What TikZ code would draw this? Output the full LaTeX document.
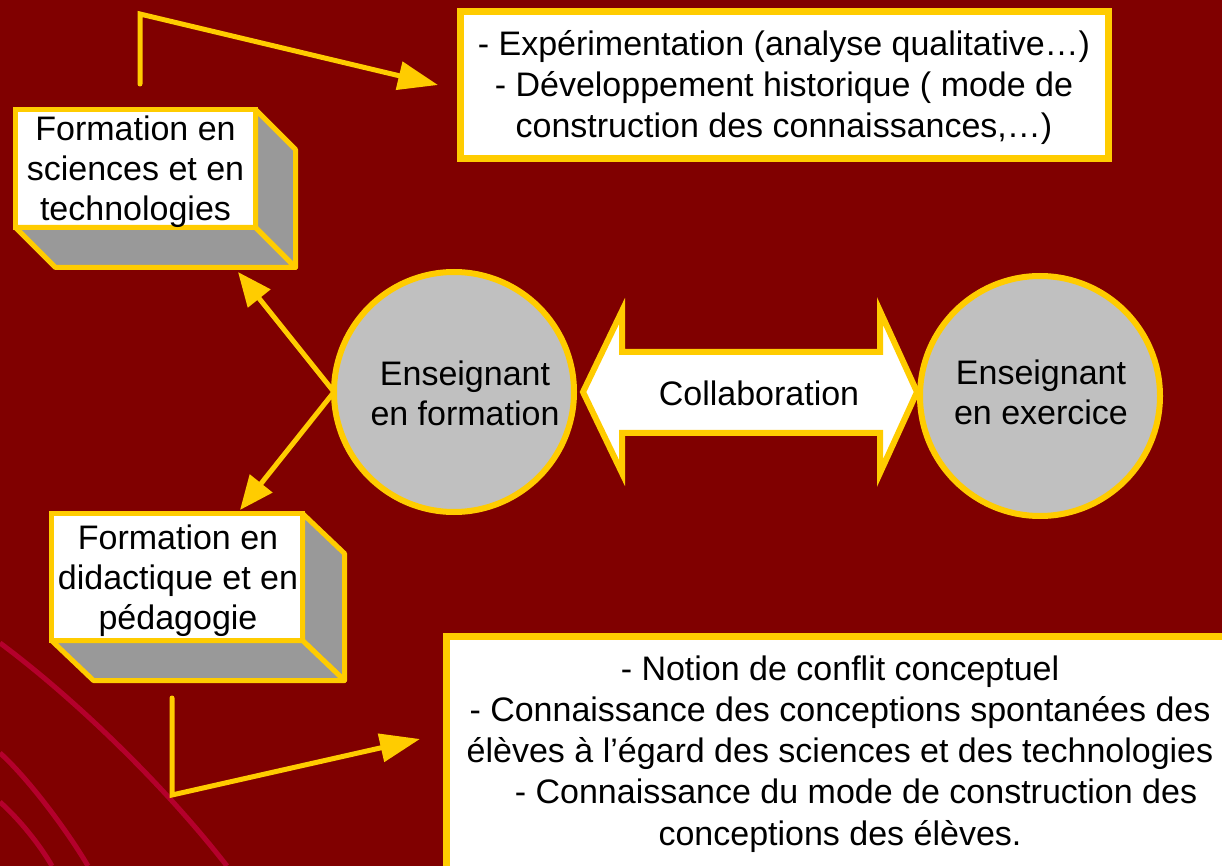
\documentclass[tikz,border=0pt]{standalone}
\usepackage{fontspec}
\setmainfont{Liberation Sans}
\usetikzlibrary{arrows.meta}

\definecolor{bgred}{HTML}{800000}
\definecolor{gold}{HTML}{FFCC00}
\definecolor{discgray}{HTML}{C0C0C0}
\definecolor{sidegray}{HTML}{999999}
\definecolor{curvered}{HTML}{B4002C}

\begin{document}
\begin{tikzpicture}[x=0.5pt,y=-0.5pt,
  every node/.style={font=\fontsize{17}{20}\selectfont,align=center,inner sep=0pt,outer sep=0pt},
  frontface/.style={draw=gold,fill=white,line width=2.5pt},
  sideface/.style={draw=gold,fill=sidegray,line width=2.5pt,line join=round},
  textbox/.style={draw=gold,fill=white,line width=3.5pt},
  disc/.style={circle,draw=gold,fill=discgray,line width=3pt,minimum size=120pt},
  link/.style={gold,line width=2.5pt,line cap=round,-{Triangle[length=20pt,width=14pt]}},
  curve/.style={curvered,line width=2.5pt}]
\useasboundingbox (0,0) rectangle (1222,866);
\clip (0,0) rectangle (1222,866);
\fill[bgred] (0,0) rectangle (1222,866);

% background curves
\draw[curve] (0,643) .. controls (70,695) and (160,780) .. (227,866);
\draw[curve] (0,753) .. controls (30,780) and (70,835) .. (88,866);
\draw[curve] (0,802) .. controls (20,820) and (40,845) .. (52,866);

% boxes on the left
\node[frontface,minimum width=120pt,minimum height=59pt] (scibox) at (135.5,168.5) {};
\draw[sideface] (scibox.north east) -- ++(40,40) -- ([shift={(40,40)}]scibox.south east) -- (scibox.south east) -- cycle;
\draw[sideface] (scibox.south west) -- ++(40,40) -- ([shift={(40,40)}]scibox.south east) -- (scibox.south east) -- cycle;
\node (scitext) at (135.5,172) {Formation en\\sciences et en\\technologies};

\node[frontface,minimum width=125.5pt,minimum height=63.5pt] (didbox) at (177,577) {};
\draw[sideface] (didbox.north east) -- ++(42,40) -- ([shift={(42,40)}]didbox.south east) -- (didbox.south east) -- cycle;
\draw[sideface] (didbox.south west) -- ++(42,40) -- ([shift={(42,40)}]didbox.south east) -- (didbox.south east) -- cycle;
\node (didtext) at (178,581) {Formation en\\didactique et en\\p\'edagogie};

% boxes on the right
\node[textbox,minimum width=324pt,minimum height=73.5pt] (expbox) at (784.5,85) {};
\node[font=\fontsize{17}{20.5}\selectfont] (exptext) at (784,88)
  {- Expérimentation (analyse qualitative…)\\- Développement historique ( mode de\\construction des connaissances,…)};
\node[textbox,anchor=north west,minimum width=400pt,minimum height=120pt] (confbox) at (446.5,636.5) {};
\node[font=\fontsize{17}{20.6}\selectfont] (conftext) at (840,754)
  {- Notion de conflit conceptuel\\- Connaissance des conceptions spontanées des\\élèves à l’égard des sciences et des technologies\\\hspace*{16pt}- Connaissance du mode de construction des\\conceptions des élèves.};

% collaboration
\draw[textbox,line width=3pt] (583,392) -- (622,311) -- (622,352) -- (880,352) -- (880,311) -- (917,392)
  -- (880,473) -- (880,433) -- (622,433) -- (622,473) -- cycle;
\node (collab) at (759,393) {Collaboration};
\node[disc] (enform) at (454,392) {};
\node (enformtext) at (465,393) {Enseignant\\en formation};
\node[disc] (enex) at (1040,396) {};
\node (enextext) at (1041,392) {Enseignant\\en exercice};

% connectors
\coordinate (scistart) at (140,84);
\coordinate (scicorner) at (140,14);
\coordinate (exptip) at (438,85);
\draw[link] (scistart) -- (scicorner) -- (exptip);
\coordinate (didstart) at (172,698);
\coordinate (didcorner) at (172,795);
\coordinate (conftip) at (420,739);
\draw[link] (didstart) -- (didcorner) -- (conftip);
\coordinate (scitip) at (238,272);
\coordinate (didtip) at (240,510);
\draw[link,-{Triangle[length=17pt,width=14pt]}] (enform.west) -- (scitip);
\draw[link,-{Triangle[length=17pt,width=14pt]}] (enform.west) -- (didtip);
\end{tikzpicture}
\end{document}
